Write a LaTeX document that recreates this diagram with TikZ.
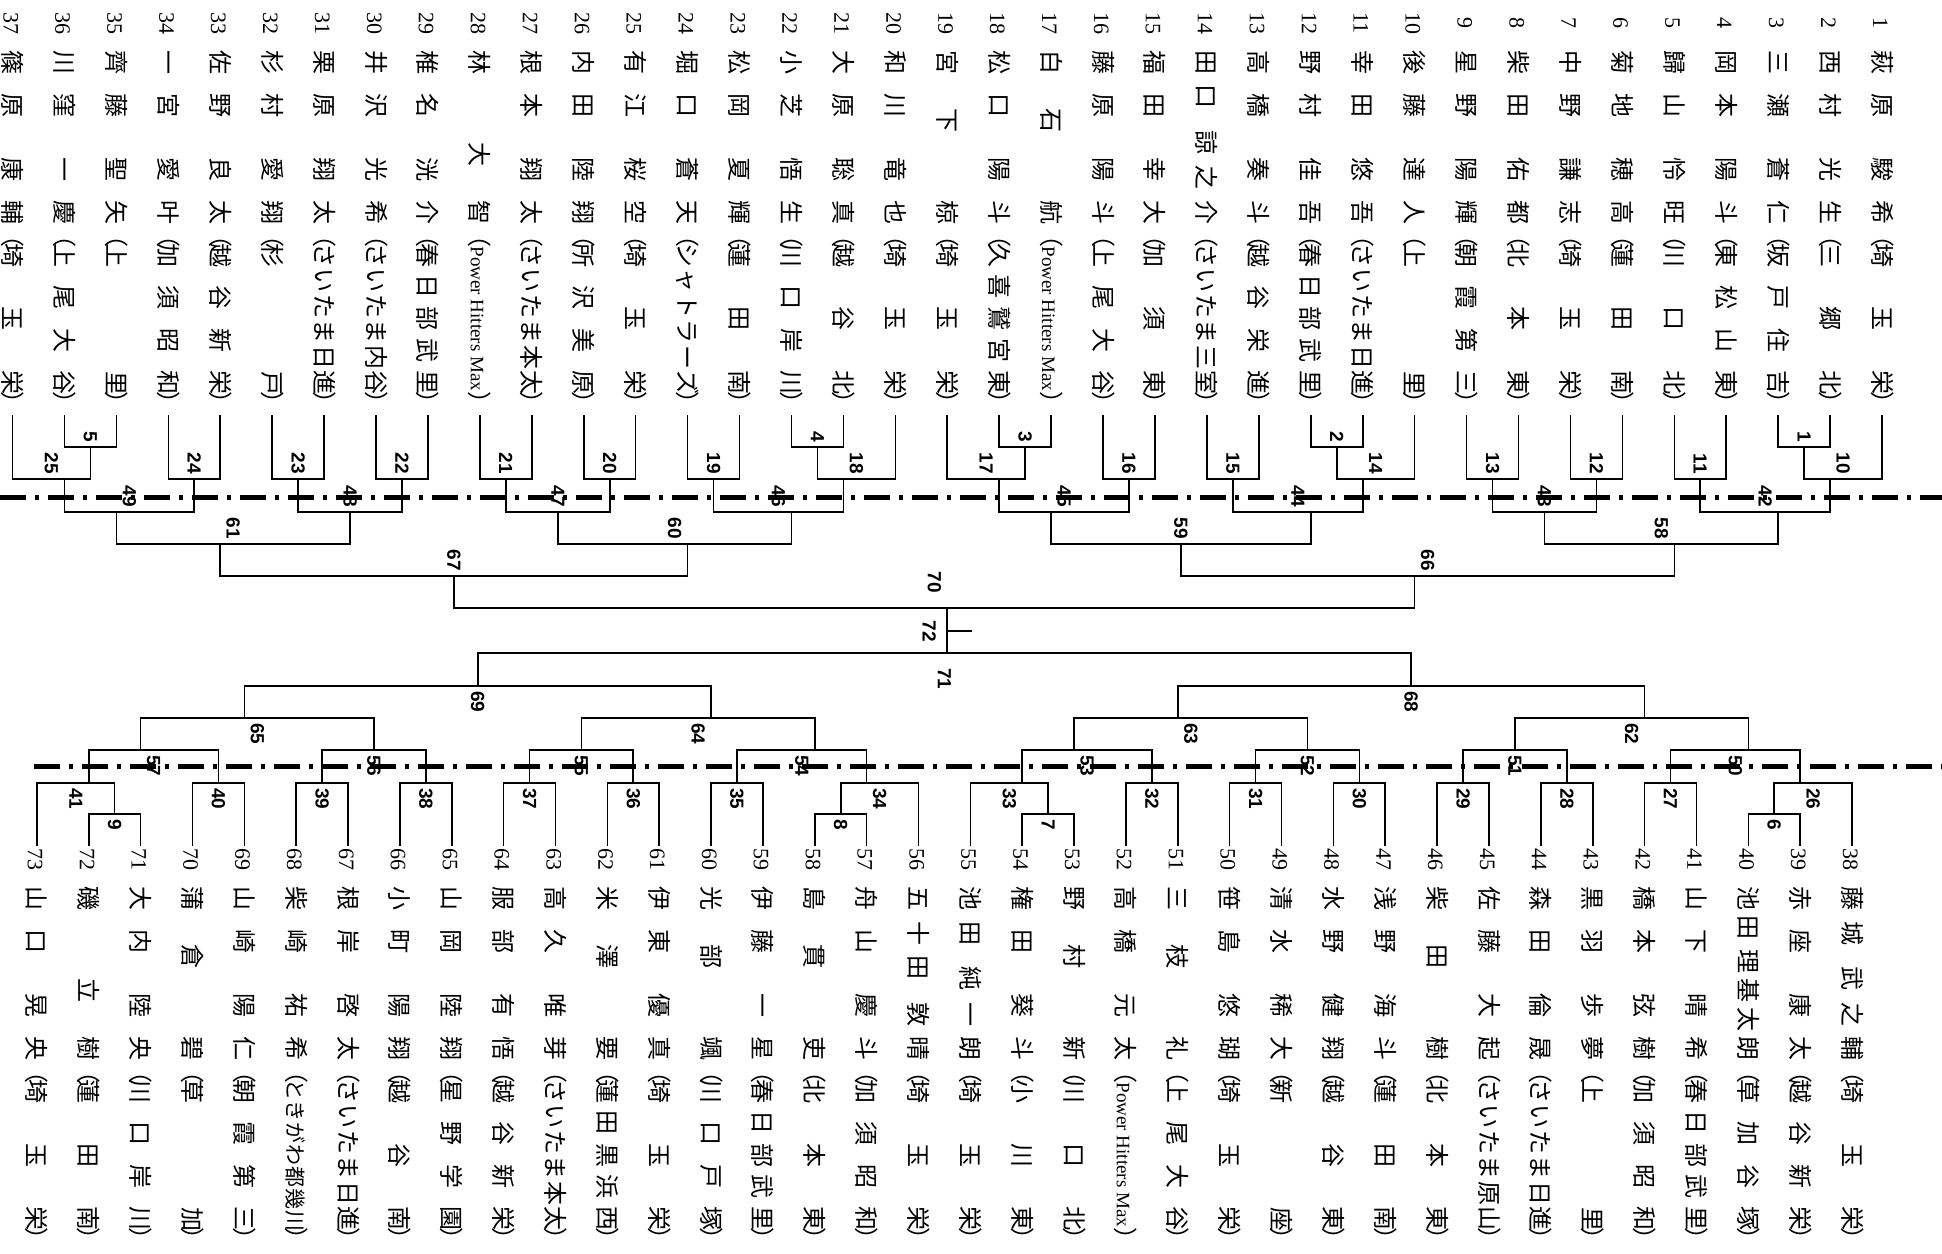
\documentclass[tikz,border=0pt]{standalone}
\usepackage{fontspec}
\setmainfont{Liberation Serif}
\newfontfamily\jp{Noto Sans CJK JP}
\newfontfamily\labfont{Liberation Sans}
\usetikzlibrary{calc}
\newcommand\TX[1]{1882-(#1-1)*51.93}
\newcommand\BX[1]{1852-(#1-38)*51.86}
\newcommand\hf{\hfill}
\newcommand\ptext[3]{\hbox{\vrule width0pt height21pt depth3pt\makebox[26pt]{\rmfamily\fontsize{22}{24}\selectfont #1}\hskip14pt\hbox to175pt{\jp #2}\hskip-2pt{\jp （}\kern-4pt\hbox to152pt{\jp #3}\kern-4pt{\jp ）}}}
\newcommand\PT[3]{\node[ptxt] (T#1) at ({\TX{#1}},10) {\ptext{#1}{#2}{#3}};}
\newcommand\PB[3]{\node[ptxt] (T#1) at ({\BX{#1}},846) {\ptext{#1}{#2}{#3}};}
\newcommand\PHM{{\rmfamily\fontsize{19}{20}\selectfont\hfil Power Hitters Max\hfil}}
\newcommand\mt[4]{\draw[br] (#2) |- (M#1) -| (#3); \path (#2 |- M#1) -- (#3 |- M#1) node[midway,#4] (L#1) {#1};}
\tikzset{
  ptxt/.style={rotate=-90, anchor=west, inner sep=0pt, outer sep=0pt, font=\fontsize{24}{28}\selectfont},
  br/.style={line width=1.6pt},
  dd/.style={line width=5pt, dash pattern=on 26pt off 9pt on 4pt off 9pt},
  labbase/.style={inner sep=0pt, outer sep=0pt, font={\labfont\bfseries\fontsize{19}{20}\selectfont}},
  labT/.style={labbase, yshift=5pt, rotate=-90, anchor=east},
  labB/.style={labbase, yshift=-5pt, rotate=-90, anchor=west},
  labTT/.style={labbase, yshift=15pt, rotate=-90, anchor=east},
  labBB/.style={labbase, yshift=-15pt, rotate=-90, anchor=west},
}
\begin{document}
\begin{tikzpicture}[x=1pt,y=-1pt]
\fill[white] (0,0) rectangle (1942,1253);
\useasboundingbox (0,0) rectangle (1942,1253);
% dash-dot lines
\coordinate (DA1) at (0,497); \coordinate (DA2) at (1942,497);
\coordinate (DB1) at (34,766); \coordinate (DB2) at (1942,766);
\draw[dd] (DA1) -- (DA2);
\draw[dd] (DB1) -- (DB2);
% top players
\PT{1}{萩\hf 原\hf\hf 駿\hf 希}{埼\hf 玉\hf 栄}
\PT{2}{西\hf 村\hf\hf 光\hf 生}{三\hf 郷\hf 北}
\PT{3}{三\hf 瀬\hf\hf 蒼\hf 仁}{坂\hf 戸\hf 住\hf 吉}
\PT{4}{岡\hf 本\hf\hf 陽\hf 斗}{東\hf 松\hf 山\hf 東}
\PT{5}{歸\hf 山\hf\hf 怜\hf 旺}{川\hf 口\hf 北}
\PT{6}{菊\hf 地\hf\hf 穂\hf 高}{蓮\hf 田\hf 南}
\PT{7}{中\hf 野\hf\hf 謙\hf 志}{埼\hf 玉\hf 栄}
\PT{8}{柴\hf 田\hf\hf 佑\hf 都}{北\hf 本\hf 東}
\PT{9}{星\hf 野\hf\hf 陽\hf 輝}{朝\hf 霞\hf 第\hf 三}
\PT{10}{後\hf 藤\hf\hf 達\hf 人}{上\hf 里}
\PT{11}{幸\hf 田\hf\hf 悠\hf 吾}{さ\hf い\hf た\hf ま\hf 日\hf 進}
\PT{12}{野\hf 村\hf\hf 佳\hf 吾}{春\hf 日\hf 部\hf 武\hf 里}
\PT{13}{高\hf 橋\hf\hf 奏\hf 斗}{越\hf 谷\hf 栄\hf 進}
\PT{14}{田\hf 口\hf\hf 諒\hf 之\hf 介}{さ\hf い\hf た\hf ま\hf 三\hf 室}
\PT{15}{福\hf 田\hf\hf 幸\hf 大}{加\hf 須\hf 東}
\PT{16}{藤\hf 原\hf\hf 陽\hf 斗}{上\hf 尾\hf 大\hf 谷}
\PT{17}{白\hf 石\hf\hf 航}{\PHM}
\PT{18}{松\hf 口\hf\hf 陽\hf 斗}{久\hf 喜\hf 鷲\hf 宮\hf 東}
\PT{19}{宮\hf 下\hf\hf 椋}{埼\hf 玉\hf 栄}
\PT{20}{和\hf 川\hf\hf 竜\hf 也}{埼\hf 玉\hf 栄}
\PT{21}{大\hf 原\hf\hf 聡\hf 真}{越\hf 谷\hf 北}
\PT{22}{小\hf 芝\hf\hf 悟\hf 生}{川\hf 口\hf 岸\hf 川}
\PT{23}{松\hf 岡\hf\hf 夏\hf 輝}{蓮\hf 田\hf 南}
\PT{24}{堀\hf 口\hf\hf 蒼\hf 天}{シ\hf ャ\hf ト\hf ラ\hf ー\hf ズ}
\PT{25}{有\hf 江\hf\hf 桜\hf 空}{埼\hf 玉\hf 栄}
\PT{26}{内\hf 田\hf\hf 陸\hf 翔}{所\hf 沢\hf 美\hf 原}
\PT{27}{根\hf 本\hf\hf 翔\hf 太}{さ\hf い\hf た\hf ま\hf 本\hf 太}
\PT{28}{林\hf\hf 大\hf 智}{\PHM}
\PT{29}{椎\hf 名\hf\hf 洸\hf 介}{春\hf 日\hf 部\hf 武\hf 里}
\PT{30}{井\hf 沢\hf\hf 光\hf 希}{さ\hf い\hf た\hf ま\hf 内\hf 谷}
\PT{31}{栗\hf 原\hf\hf 翔\hf 太}{さ\hf い\hf た\hf ま\hf 日\hf 進}
\PT{32}{杉\hf 村\hf\hf 愛\hf 翔}{杉\hf 戸}
\PT{33}{佐\hf 野\hf\hf 良\hf 太}{越\hf 谷\hf 新\hf 栄}
\PT{34}{一\hf 宮\hf\hf 愛\hf 叶}{加\hf 須\hf 昭\hf 和}
\PT{35}{齊\hf 藤\hf\hf 聖\hf 矢}{上\hf 里}
\PT{36}{川\hf 窪\hf\hf 一\hf 慶}{上\hf 尾\hf 大\hf 谷}
\PT{37}{篠\hf 原\hf\hf 康\hf 輔}{埼\hf 玉\hf 栄}
% bottom players
\PB{38}{藤\hf 城\hf\hf 武\hf 之\hf 輔}{埼\hf 玉\hf 栄}
\PB{39}{赤\hf 座\hf\hf 康\hf 太}{越\hf 谷\hf 新\hf 栄}
\PB{40}{池\hf 田\hf\hf 理\hf 基\hf 太\hf 朗}{草\hf 加\hf 谷\hf 塚}
\PB{41}{山\hf 下\hf\hf 晴\hf 希}{春\hf 日\hf 部\hf 武\hf 里}
\PB{42}{橋\hf 本\hf\hf 弦\hf 樹}{加\hf 須\hf 昭\hf 和}
\PB{43}{黒\hf 羽\hf\hf 歩\hf 夢}{上\hf 里}
\PB{44}{森\hf 田\hf\hf 倫\hf 晟}{さ\hf い\hf た\hf ま\hf 日\hf 進}
\PB{45}{佐\hf 藤\hf\hf 大\hf 起}{さ\hf い\hf た\hf ま\hf 原\hf 山}
\PB{46}{柴\hf 田\hf\hf 樹}{北\hf 本\hf 東}
\PB{47}{浅\hf 野\hf\hf 海\hf 斗}{蓮\hf 田\hf 南}
\PB{48}{水\hf 野\hf\hf 健\hf 翔}{越\hf 谷\hf 東}
\PB{49}{清\hf 水\hf\hf 稀\hf 大}{新\hf 座}
\PB{50}{笹\hf 島\hf\hf 悠\hf 瑚}{埼\hf 玉\hf 栄}
\PB{51}{三\hf 枝\hf\hf 礼}{上\hf 尾\hf 大\hf 谷}
\PB{52}{高\hf 橋\hf\hf 元\hf 太}{\PHM}
\PB{53}{野\hf 村\hf\hf 新}{川\hf 口\hf 北}
\PB{54}{権\hf 田\hf\hf 葵\hf 斗}{小\hf 川\hf 東}
\PB{55}{池\hf 田\hf\hf 純\hf 一\hf 朗}{埼\hf 玉\hf 栄}
\PB{56}{五\hf 十\hf 田\hf\hf 敦\hf 晴}{埼\hf 玉\hf 栄}
\PB{57}{舟\hf 山\hf\hf 慶\hf 斗}{加\hf 須\hf 昭\hf 和}
\PB{58}{島\hf 貫\hf\hf 吏}{北\hf 本\hf 東}
\PB{59}{伊\hf 藤\hf\hf 一\hf 星}{春\hf 日\hf 部\hf 武\hf 里}
\PB{60}{光\hf 部\hf\hf 颯}{川\hf 口\hf 戸\hf 塚}
\PB{61}{伊\hf 東\hf\hf 優\hf 真}{埼\hf 玉\hf 栄}
\PB{62}{米\hf 澤\hf\hf 要}{蓮\hf 田\hf 黒\hf 浜\hf 西}
\PB{63}{高\hf 久\hf\hf 唯\hf 芽}{さ\hf い\hf た\hf ま\hf 本\hf 太}
\PB{64}{服\hf 部\hf\hf 有\hf 悟}{越\hf 谷\hf 新\hf 栄}
\PB{65}{山\hf 岡\hf\hf 陸\hf 翔}{星\hf 野\hf 学\hf 園}
\PB{66}{小\hf 町\hf\hf 陽\hf 翔}{越\hf 谷\hf 南}
\PB{67}{根\hf 岸\hf\hf 啓\hf 太}{さ\hf い\hf た\hf ま\hf 日\hf 進}
\PB{68}{柴\hf 崎\hf\hf 祐\hf 希}{\fontsize{21}{24}\selectfont と\hf き\hf が\hf わ\hf 都\hf 幾\hf 川}
\PB{69}{山\hf 崎\hf\hf 陽\hf 仁}{朝\hf 霞\hf 第\hf 三}
\PB{70}{蒲\hf 倉\hf\hf 碧}{草\hf 加}
\PB{71}{大\hf 内\hf\hf 陸\hf 央}{川\hf 口\hf 岸\hf 川}
\PB{72}{磯\hf\hf 立\hf 樹}{蓮\hf 田\hf 南}
\PB{73}{山\hf 口\hf\hf 晃\hf 央}{埼\hf 玉\hf 栄}
% top match coordinates
\coordinate (M1) at ({\TX{2.5}},447);
\coordinate (M2) at ({\TX{11.5}},447);
\coordinate (M3) at ({\TX{17.5}},447);
\coordinate (M4) at ({\TX{21.5}},447);
\coordinate (M5) at ({\TX{35.5}},447);
\coordinate (M10) at ({\TX{2}},479);
\coordinate (M11) at ({\TX{4.5}},479);
\coordinate (M12) at ({\TX{6.5}},479);
\coordinate (M13) at ({\TX{8.5}},479);
\coordinate (M14) at ({\TX{11}},479);
\coordinate (M15) at ({\TX{13.5}},479);
\coordinate (M16) at ({\TX{15.5}},479);
\coordinate (M17) at ({\TX{18}},479);
\coordinate (M18) at ({\TX{21}},479);
\coordinate (M19) at ({\TX{23.5}},479);
\coordinate (M20) at ({\TX{25.5}},479);
\coordinate (M21) at ({\TX{27.5}},479);
\coordinate (M22) at ({\TX{29.5}},479);
\coordinate (M23) at ({\TX{31.5}},479);
\coordinate (M24) at ({\TX{33.5}},479);
\coordinate (M25) at ({\TX{36}},479);
\coordinate (M42) at ({\TX{3}},512);
\coordinate (M43) at ({\TX{7.5}},512);
\coordinate (M44) at ({\TX{12}},512);
\coordinate (M45) at ({\TX{17}},512);
\coordinate (M46) at ({\TX{22}},512);
\coordinate (M47) at ({\TX{26.5}},512);
\coordinate (M48) at ({\TX{30.5}},512);
\coordinate (M49) at ({\TX{35}},512);
\coordinate (M58) at ({\TX{5}},544);
\coordinate (M59) at ({\TX{14.5}},544);
\coordinate (M60) at ({\TX{24}},544);
\coordinate (M61) at ({\TX{33}},544);
\coordinate (M66) at ({\TX{10}},576);
\coordinate (M67) at ({\TX{28.5}},576);
\coordinate (M70) at ({\TX{19}},608);
% bottom match coordinates
\coordinate (M6) at ({\BX{39.5}},814);
\coordinate (M7) at ({\BX{53.5}},814);
\coordinate (M8) at ({\BX{57.5}},814);
\coordinate (M9) at ({\BX{71.5}},814);
\coordinate (M26) at ({\BX{39}},783);
\coordinate (M27) at ({\BX{41.5}},783);
\coordinate (M28) at ({\BX{43.5}},783);
\coordinate (M29) at ({\BX{45.5}},783);
\coordinate (M30) at ({\BX{47.5}},783);
\coordinate (M31) at ({\BX{49.5}},783);
\coordinate (M32) at ({\BX{51.5}},783);
\coordinate (M33) at ({\BX{54}},783);
\coordinate (M34) at ({\BX{57}},783);
\coordinate (M35) at ({\BX{59.5}},783);
\coordinate (M36) at ({\BX{61.5}},783);
\coordinate (M37) at ({\BX{63.5}},783);
\coordinate (M38) at ({\BX{65.5}},783);
\coordinate (M39) at ({\BX{67.5}},783);
\coordinate (M40) at ({\BX{69.5}},783);
\coordinate (M41) at ({\BX{72}},783);
\coordinate (M50) at ({\BX{40}},750);
\coordinate (M51) at ({\BX{44.5}},750);
\coordinate (M52) at ({\BX{48.5}},750);
\coordinate (M53) at ({\BX{53}},750);
\coordinate (M54) at ({\BX{58}},750);
\coordinate (M55) at ({\BX{62.5}},750);
\coordinate (M56) at ({\BX{66.5}},750);
\coordinate (M57) at ({\BX{71}},750);
\coordinate (M62) at ({\BX{42}},718);
\coordinate (M63) at ({\BX{51}},718);
\coordinate (M64) at ({\BX{60}},718);
\coordinate (M65) at ({\BX{69}},718);
\coordinate (M68) at ({\BX{46.5}},686);
\coordinate (M69) at ({\BX{64.5}},686);
\coordinate (M71) at ({\BX{55.5}},653);
% top bracket
\mt{1}{T2.east}{T3.east}{labT}
\mt{2}{T11.east}{T12.east}{labT}
\mt{3}{T17.east}{T18.east}{labT}
\mt{4}{T21.east}{T22.east}{labT}
\mt{5}{T35.east}{T36.east}{labT}
\mt{10}{T1.east}{M1}{labT}
\mt{11}{T4.east}{T5.east}{labT}
\mt{12}{T6.east}{T7.east}{labT}
\mt{13}{T8.east}{T9.east}{labT}
\mt{14}{T10.east}{M2}{labT}
\mt{15}{T13.east}{T14.east}{labT}
\mt{16}{T15.east}{T16.east}{labT}
\mt{17}{M3}{T19.east}{labT}
\mt{18}{T20.east}{M4}{labT}
\mt{19}{T23.east}{T24.east}{labT}
\mt{20}{T25.east}{T26.east}{labT}
\mt{21}{T27.east}{T28.east}{labT}
\mt{22}{T29.east}{T30.east}{labT}
\mt{23}{T31.east}{T32.east}{labT}
\mt{24}{T33.east}{T34.east}{labT}
\mt{25}{M5}{T37.east}{labT}
\mt{42}{M10}{M11}{labT}
\mt{43}{M12}{M13}{labT}
\mt{44}{M14}{M15}{labT}
\mt{45}{M16}{M17}{labT}
\mt{46}{M18}{M19}{labT}
\mt{47}{M20}{M21}{labT}
\mt{48}{M22}{M23}{labT}
\mt{49}{M24}{M25}{labT}
\mt{58}{M42}{M43}{labT}
\mt{59}{M44}{M45}{labT}
\mt{60}{M46}{M47}{labT}
\mt{61}{M48}{M49}{labT}
\mt{66}{M58}{M59}{labT}
\mt{67}{M60}{M61}{labT}
\mt{70}{M66}{M67}{labTT}
% bottom bracket
\mt{6}{T39.west}{T40.west}{labB}
\mt{7}{T53.west}{T54.west}{labB}
\mt{8}{T57.west}{T58.west}{labB}
\mt{9}{T71.west}{T72.west}{labB}
\mt{26}{T38.west}{M6}{labB}
\mt{27}{T41.west}{T42.west}{labB}
\mt{28}{T43.west}{T44.west}{labB}
\mt{29}{T45.west}{T46.west}{labB}
\mt{30}{T47.west}{T48.west}{labB}
\mt{31}{T49.west}{T50.west}{labB}
\mt{32}{T51.west}{T52.west}{labB}
\mt{33}{M7}{T55.west}{labB}
\mt{34}{T56.west}{M8}{labB}
\mt{35}{T59.west}{T60.west}{labB}
\mt{36}{T61.west}{T62.west}{labB}
\mt{37}{T63.west}{T64.west}{labB}
\mt{38}{T65.west}{T66.west}{labB}
\mt{39}{T67.west}{T68.west}{labB}
\mt{40}{T69.west}{T70.west}{labB}
\mt{41}{M9}{T73.west}{labB}
\mt{50}{M26}{M27}{labB}
\mt{51}{M28}{M29}{labB}
\mt{52}{M30}{M31}{labB}
\mt{53}{M32}{M33}{labB}
\mt{54}{M34}{M35}{labB}
\mt{55}{M36}{M37}{labB}
\mt{56}{M38}{M39}{labB}
\mt{57}{M40}{M41}{labB}
\mt{62}{M50}{M51}{labB}
\mt{63}{M52}{M53}{labB}
\mt{64}{M54}{M55}{labB}
\mt{65}{M56}{M57}{labB}
\mt{68}{M62}{M63}{labB}
\mt{69}{M64}{M65}{labB}
\mt{71}{M68}{M69}{labBB}
% final
\coordinate (C72) at ({\TX{19}},631);
\coordinate (E72) at ({\TX{19}+25},631);
\draw[br] (M70) -- (M70 |- M71);
\draw[br] (C72) -- (E72);
\node[labbase, rotate=-90] (L72) at ({\TX{19}-18},631) {72};
\end{tikzpicture}
\end{document}
